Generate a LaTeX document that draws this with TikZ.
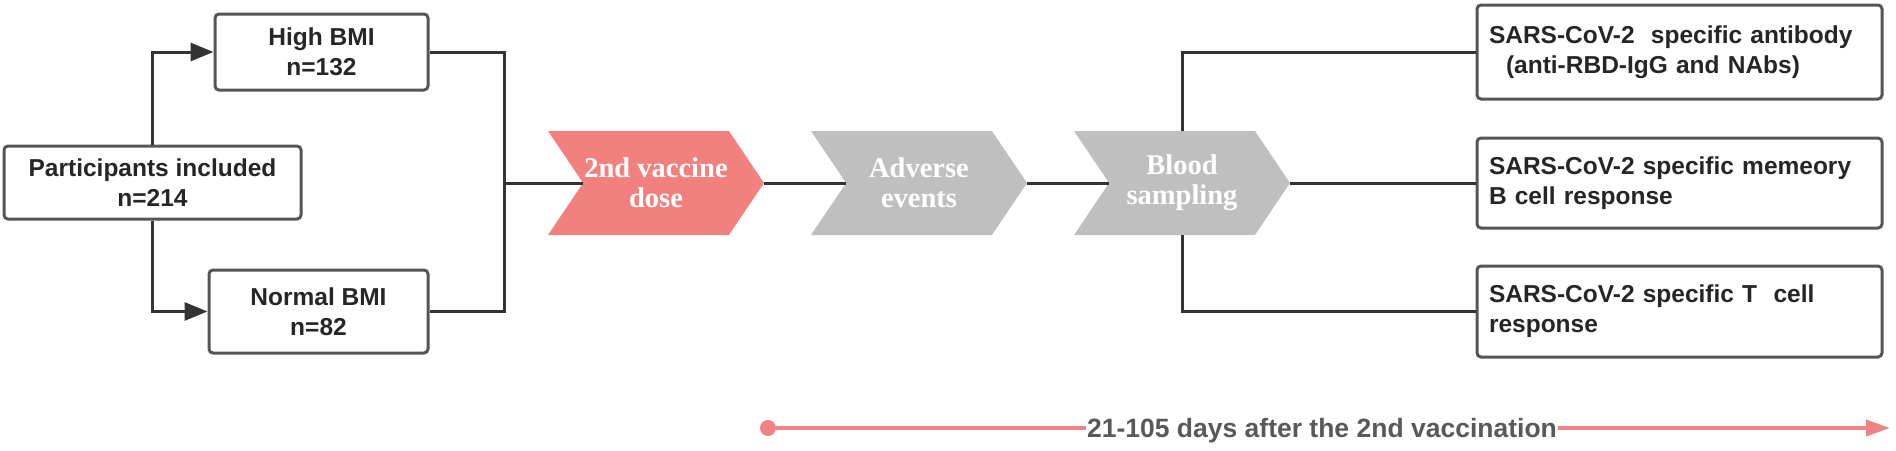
\documentclass[tikz,border=0pt]{standalone}
\usepackage{fontspec}
\setmainfont{Liberation Sans}
\newfontfamily\chevfont{Liberation Serif}
\usetikzlibrary{arrows.meta,shapes.symbols}
\definecolor{dosered}{RGB}{242,128,126}
\definecolor{stepgray}{RGB}{191,191,191}
\definecolor{boxline}{RGB}{85,85,85}
\definecolor{wire}{RGB}{51,51,51}
\definecolor{daytext}{RGB}{89,89,89}
\definecolor{dayline}{RGB}{240,132,132}
\begin{document}
\begin{tikzpicture}[x=1pt,y=-1pt]
	\tikzstyle{group} = [draw=boxline, line width=3, rounded corners=4, fill=white, text=black!85, align=center, font=\bfseries\fontsize{24.5}{30}\selectfont]
	\tikzstyle{result} = [group, align=left, minimum width=405, text width=381, inner xsep=12]
	\tikzstyle{chevron} = [signal, signal from=west, signal to=east, signal pointer angle=112, minimum width=216, minimum height=104, inner sep=0, text=white, align=center, font=\chevfont\bfseries\fontsize{28.5}{30}\selectfont]
	\tikzstyle{wire} = [draw=wire, line width=3]
	\tikzstyle{arrow} = [wire, -{Triangle[length=23pt,width=18pt]}]
	\tikzstyle{dayline} = [draw=dayline, line width=4, -{Triangle[length=24pt,width=16pt]}]
	\useasboundingbox (0,0) rectangle (1896,450);
\node [group, minimum width=297, minimum height=73] (v1) at (152.5,182.5) {Participants included\\n=214};
\node [group, minimum width=213, minimum height=76] (v2) at (321.5,52) {High BMI\\n=132};
\node [group, minimum width=219, minimum height=83] (v3) at (318.5,311.5) {Normal BMI\\n=82};
\node [chevron, fill=dosered] (v4) at (656,183) {2nd vaccine\\dose};
\node [chevron, fill=stepgray] (v5) at (919,183) {Adverse\\events};
\node [chevron, fill=stepgray] (v6) at (1182,183) {Blood\\sampling};
\node [result, minimum height=94] (v7) at (1679.5,52) {SARS-CoV-2\ \ specific antibody\\\hspace*{17pt}(anti-RBD-IgG and NAbs)};
\node [result, minimum height=90] (v8) at (1679.5,183) {SARS-CoV-2 specific memeory\\B cell response};
\node [result, minimum height=91] (v9) at (1679.5,311.5) {SARS-CoV-2 specific T\ \ cell\\response};
\coordinate (m) at (504,183);
\draw [arrow] (v1.north) |- (v2.west);
\draw [arrow] (v1.south) |- (v3.west);
\draw [wire] (v2.east) -| (m) |- (v3.east);
\draw [wire] (m) -- (v4.west);
\draw [wire] (v4.east) -- (v5.west);
\draw [wire] (v5.east) -- (v6.west);
\draw [wire] (v6.north) |- (v7.west);
\draw [wire] (v6.east) -- (v8.west);
\draw [wire] (v6.south) |- (v9.west);

\node [circle, fill=dayline, inner sep=0, minimum size=16] (t0) at (768,428) {};
\coordinate (t1) at (1890,428);
\draw [dayline] (t0) -- (t1);
\node [fill=white, inner xsep=1, anchor=base, text=daytext, font=\bfseries\fontsize{26.5}{30}\selectfont] (v10) at (1322,437) {21-105 days after the 2nd vaccination};
\end{tikzpicture}
\end{document}
